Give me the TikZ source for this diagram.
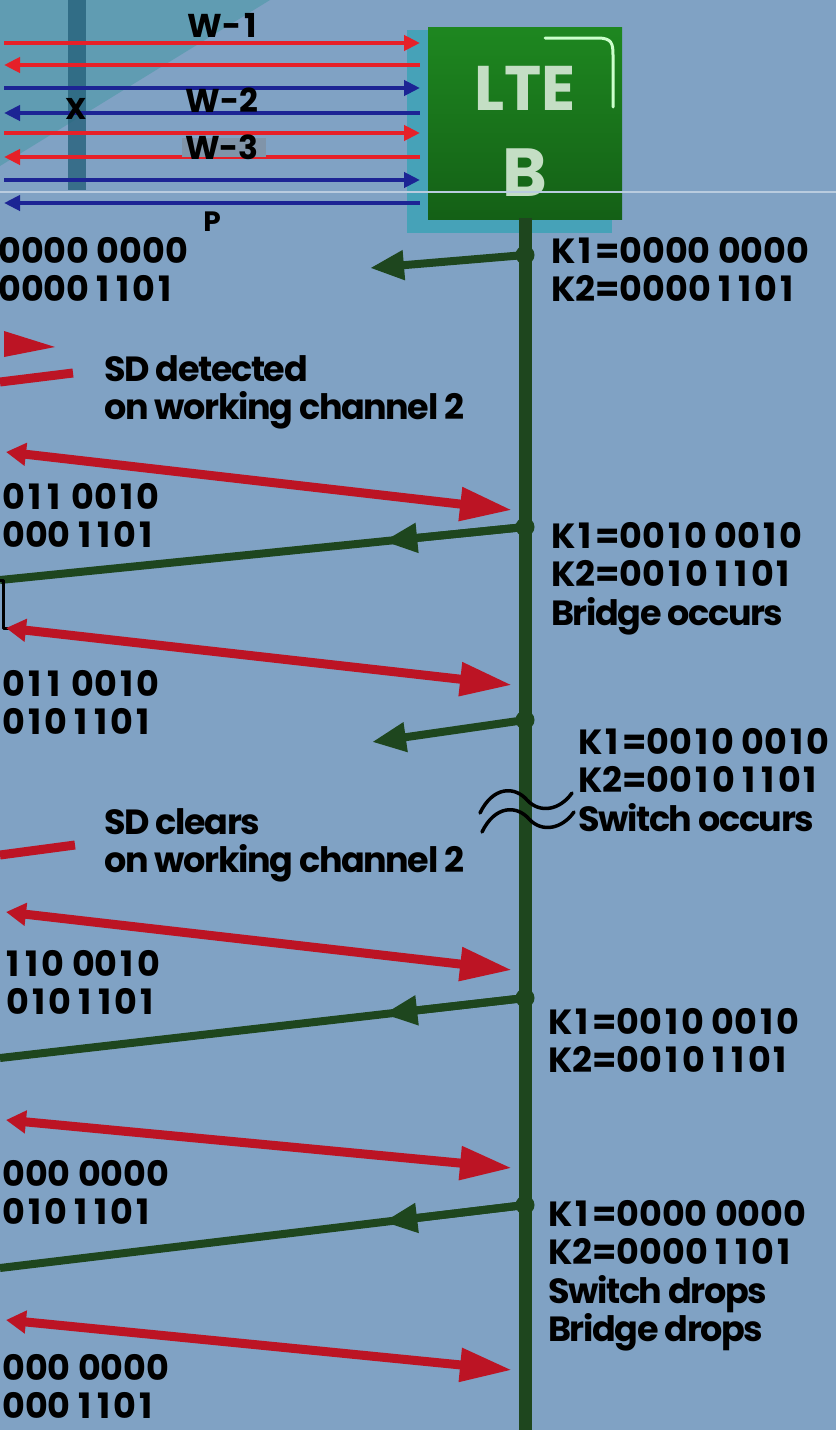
\documentclass[tikz,border=0pt]{standalone}
\usepackage{fontspec}
\setmainfont{Poppins}
\newfontfamily\wordfont{Poppins}[LetterSpace=-4]
\usetikzlibrary{arrows.meta,calc,positioning}
% widen the narrow 1 a little, towards the width of the other digits
\XeTeXinterchartokenstate=1
\newXeTeXintercharclass\oneclass
\XeTeXcharclass`1=\oneclass
\XeTeXinterchartoks 0 \oneclass={\kern.09em\relax}
\XeTeXinterchartoks \oneclass 0={\kern.09em\relax}
\XeTeXinterchartoks \oneclass 4095={\kern.09em\relax}
\XeTeXinterchartoks \oneclass \oneclass={\kern.18em\relax}
\definecolor{bgblue}{RGB}{128,162,196}
\definecolor{bgteal}{RGB}{96,156,178}
\definecolor{barteal}{RGB}{38,98,124}
\definecolor{boxgreen}{RGB}{30,135,32}
\definecolor{boxdark}{RGB}{20,96,22}
\definecolor{boxshade}{RGB}{70,162,184}
\definecolor{linegreen}{RGB}{30,70,30}
\definecolor{arrred}{RGB}{188,20,36}
\definecolor{wred}{RGB}{230,32,40}
\definecolor{wblue}{RGB}{28,36,148}
\definecolor{letgreen}{RGB}{196,222,196}
\begin{document}
\begin{tikzpicture}[x=1pt,y=-1pt,line join=round,
    lbl/.style={anchor=north west,inner sep=0pt,align=left,
      font=\fontsize{35}{38.5}\selectfont\bfseries},
    wrd/.style={lbl,font=\fontsize{35}{38.5}\selectfont\wordfont\bfseries},
    wlbl/.style={inner sep=0pt,font=\fontsize{33}{33}\selectfont\bfseries},
    wfwd/.style={line width=4.5pt,-{Triangle[length=16pt,width=15pt]}},
    wbck/.style={line width=4.5pt,{Triangle[length=16pt,width=15pt]}-},
    redarr/.style={arrred,line width=9pt,
      {Triangle[length=20pt,width=22pt]}-{Triangle[length=52pt,width=32pt]}},
    gline/.style={linegreen,line width=8pt},
    garr/.style={gline,-{Triangle[length=34pt,width=28pt]}}]
  % frame
  \useasboundingbox (0,0) rectangle (836,1430);
  \clip (0,0) rectangle (836,1430);
  \fill[bgblue] (0,0) rectangle (836,1430);
  \fill[bgteal] (0,0) -- (270,0) -- (0,166) -- cycle;
  \fill[barteal,opacity=0.8] (68,0) rectangle (86,190);

  % LTE B box and its time line
  \fill[boxshade] (407,30) rectangle (612,233);
  \node[minimum width=194,minimum height=192,inner sep=0pt,
    top color=boxgreen,bottom color=boxdark] (lteb) at (525,123) {};
  \node[inner sep=0pt,text=letgreen,align=center,
    font=\fontsize{63}{86}\selectfont\bfseries] (ltename) at (525,131)
    {LTE\\{\fontsize{68}{86}\selectfont B}};
  \draw[white!80!green,line width=3pt,line cap=round]
    (545,38) -- (598,38) .. controls (612,38) and (613,44) .. (613,55) -- (613,107);
  \draw[white!45!bgblue,line width=1.2pt] (0,192) -- (836,192);
  \coordinate (top) at (525,218);
  \coordinate (bot) at (525,1430);
  \draw[linegreen,line width=13pt] (top) -- (bot);

  % working and protection channels
  \foreach \y/\c/\s in {43/wred/wfwd,65/wred/wbck,88/wblue/wfwd,113/wblue/wbck,
      133/wred/wfwd,157/wred/wbck,180/wblue/wfwd,203/wblue/wbck}
    \draw[\c,\s] (4,\y) -- (420,\y);
  \fill[gray!40!bgblue] (182,138) rectangle (266,157);
  \node[wlbl] (w1) at (224,25) {W-1};
  \node[wlbl] (w2) at (222,100) {W-2};
  \node[wlbl] (w3) at (222,147) {W-3};
  \node[wlbl,font=\fontsize{28}{28}\selectfont\bfseries] (p) at (212,222) {P};
  \node[wlbl,font=\fontsize{30}{30}\selectfont\bfseries] (x) at (76,109) {X};

  % junctions on the time line
  \foreach \n/\y in {1/255,2/527,3/720,4/998,5/1205} {
    \coordinate (j\n) at (525,\y);
    \fill[linegreen] (j\n) circle (9.5);
  }

  % K bytes sent back from B
  \coordinate (g1) at (370,268);
  \coordinate (g2) at (0,580);
  \coordinate (g3) at (372,742);
  \coordinate (g4) at (0,1058);
  \coordinate (g5) at (0,1268);
  \draw[garr] (j1) -- (g1);
  \draw[gline] (j2) -- (g2);
  \draw[garr] (j2) -- ($(j2)!0.27!(g2)$);
  \draw[garr] (j3) -- (g3);
  \draw[gline] (j4) -- (g4);
  \draw[garr] (j4) -- ($(j4)!0.27!(g4)$);
  \draw[gline] (j5) -- (g5);
  \draw[garr] (j5) -- ($(j5)!0.27!(g5)$);
  \draw[black,line width=3pt] (0,580) -- (3,580) -- (3,628) -- (10,628);

  % K bytes arriving at B
  \foreach \a/\b/\n in {452/510/1,628/685/2,912/970/3,1120/1168/4,1320/1370/5} {
    \coordinate (r\n) at (6,\a);
    \coordinate (e\n) at (512,\b);
    \draw[redarr] (r\n) -- (e\n);
  }
  \fill[arrred] (4,331) -- (55,347) -- (4,357) -- cycle;
  \draw[arrred,line width=9pt] (0,382) -- (73,373);
  \draw[arrred,line width=9pt] (0,855) -- (75,845);

  % switch point
  \draw[black,line width=3.5pt,line cap=round]
    (480,813) .. controls (493,786) and (515,786) .. (527,800)
    .. controls (540,814) and (560,810) .. (572,793);
  \draw[black,line width=3.5pt,line cap=round]
    (482,832) .. controls (495,805) and (517,805) .. (529,819)
    .. controls (542,833) and (562,829) .. (574,812);

  % left column
  \node[lbl] (la) at (-2,237) {0000 0000\\0000 1101};
  \node[lbl] (lb) at (2,483) {011 0010\\000 1101};
  \node[lbl] (lc) at (2,670) {011 0010\\010 1101};
  \node[lbl] (ld) at (6,950) {110 0010\\010 1101};
  \node[lbl] (le) at (2,1160) {000 0000\\010 1101};
  \node[lbl] (lf) at (2,1354) {000 0000\\000 1101};
  \node[wrd] (sda) at (104,355) {SD detected\\on working channel 2};
  \node[wrd] (sdb) at (104,808) {SD clears\\on working channel 2};

  % right column
  \node[lbl] (ka) at (551,237) {K1=0000 0000\\K2=0000 1101};
  \node[lbl] (kb) at (551,522) {K1=0010 0010\\K2=0010 1101\\{\wordfont Bridge occurs}};
  \node[lbl] (kc) at (578,728) {K1=0010 0010\\K2=0010 1101\\{\wordfont Switch occurs}};
  \node[lbl] (kd) at (548,1008) {K1=0010 0010\\K2=0010 1101};
  \node[lbl] (ke) at (548,1200) {K1=0000 0000\\K2=0000 1101\\{\wordfont Switch drops}\\{\wordfont Bridge drops}};
\end{tikzpicture}
\end{document}
